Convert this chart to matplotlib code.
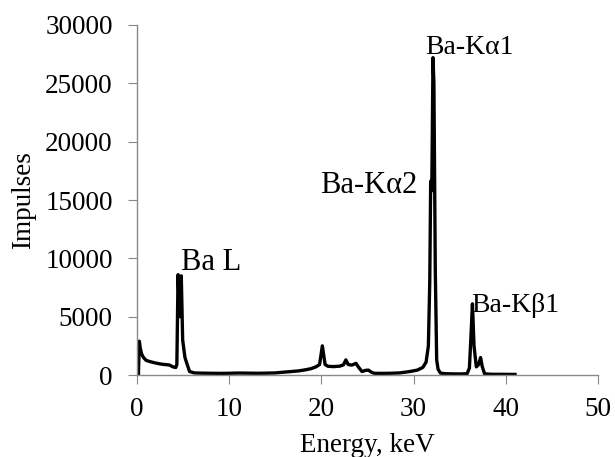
import matplotlib.pyplot as plt

plt.rcParams['font.family'] = ['Liberation Serif', 'DejaVu Serif']

# EDX spectrum
energy = [0.15, 0.25, 0.35, 0.5, 0.7, 1.0, 1.4, 1.9, 2.5, 3.0, 3.5, 3.9, 4.2,
          4.32, 4.45, 4.62, 4.8, 4.95, 5.05, 5.2, 5.4, 5.7, 6.2, 7.0, 8.0,
          9.0, 10.0, 11.0, 12.0, 13.0, 14.0, 15.0, 16.0, 16.6, 17.5, 18.3,
          18.9, 19.4, 19.8, 20.1, 20.4, 20.7, 21.3, 22.0, 22.4, 22.65, 22.9,
          23.3, 23.75, 24.0, 24.4, 24.8, 25.1, 25.4, 25.7, 26.5, 27.5, 28.5,
          29.6, 30.4, 31.0, 31.35, 31.6, 31.75, 31.85, 31.97, 32.1, 32.2,
          32.35, 32.5, 32.65, 32.9, 33.3, 34.0, 35.0, 35.8, 36.05, 36.2,
          36.38, 36.55, 36.8, 37.05, 37.26, 37.45, 37.7, 38.5, 39.5, 41.0]
counts = [0, 2900, 2300, 1800, 1500, 1250, 1150, 1050, 950, 900, 860, 700, 640,
          900, 8600, 5000, 8500, 3000, 2400, 1500, 1000, 300, 180, 160, 150,
          140, 150, 170, 160, 150, 160, 180, 250, 290, 350, 450,
          550, 700, 900, 2500, 900, 750, 720, 760, 880, 1300, 900,
          850, 1000, 700, 300, 400, 420, 250, 150, 140, 150, 180,
          300, 420, 650, 1100, 2500, 8000, 16600, 15800, 27200, 25000,
          9000, 1300, 500, 170, 120, 100, 90, 110, 600, 3000,
          6100, 2500, 700, 900, 1500, 700, 100, 60, 60, 50]

peak_labels = ['Ba L', 'Ba-K\u03b12', 'Ba-K\u03b11', 'Ba-K\u03b21']
label_x = [4.8, 19.9, 31.3, 36.25]
label_y = [9000, 15600, 27500, 5400]
label_size = [22, 22, 20, 20]

fig = plt.figure(figsize=(6.15, 4.57), dpi=100)
ax = fig.add_axes([0.2228, 0.1794, 0.7496, 0.7659])

ax.plot(energy, counts, color='black', linewidth=2.4, solid_joinstyle='round')

for name, x, y, fs in zip(peak_labels, label_x, label_y, label_size):
    ax.text(x, y, name, fontsize=fs, ha='left', va='baseline')

ax.set_xlim(0, 50)
ax.set_ylim(0, 30000)
ax.set_xticks(range(0, 51, 10))
ax.set_yticks(range(0, 30001, 5000))

for side in ['top', 'right']:
    ax.spines[side].set_visible(False)
for side in ['left', 'bottom']:
    ax.spines[side].set_color('#888888')
    ax.spines[side].set_linewidth(1.0)
ax.tick_params(axis='both', direction='out', length=6.5, color='#888888',
               labelsize=19.5)
ax.tick_params(axis='y', pad=11)
ax.tick_params(axis='x', pad=9)

ax.set_xlabel('Energy, keV', fontsize=19.5)
ax.set_ylabel('Impulses', fontsize=19.5)
ax.xaxis.set_label_coords(0.5, -0.165)
ax.yaxis.set_label_coords(-0.22, 0.5)

fig.savefig('out.png', dpi=100)
